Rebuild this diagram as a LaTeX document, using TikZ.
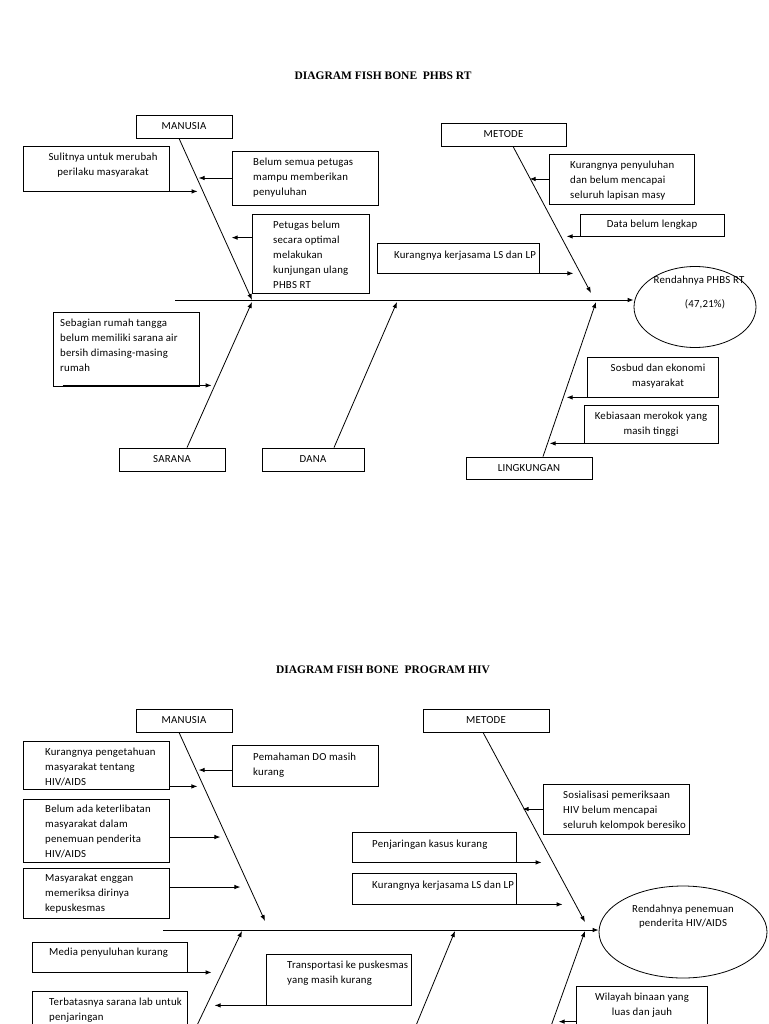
\documentclass[tikz,border=0pt]{standalone}
\usepackage{fontspec}
\setmainfont[LetterSpace=2]{Carlito}
\newfontfamily\titlefont{Liberation Serif}
\usetikzlibrary{arrows.meta,shapes.geometric,calc}
\tikzset{
  bx/.style={draw, line width=0.8pt, inner sep=0pt, font=\fontsize{10.8}{15}\selectfont},
  txt/.style={inner sep=0pt, font=\fontsize{10.8}{15}\selectfont},
  arr/.style={line width=0.8pt, -{Latex[length=6pt,width=4.5pt]}},
  ttl/.style={inner sep=0pt, font=\titlefont\bfseries\fontsize{11.5}{14}\selectfont},
  oval/.style={draw, ellipse, line width=0.8pt, inner sep=0pt}
}
\newcommand{\fbx}[6]{\node[bx, minimum width={(#4-#2)*1pt}, minimum height={(#5-#3)*1pt}] (#1) at ({(#2+#4)/2},{(#3+#5)/2}) {#6};}
\newcommand{\ltx}[4]{\node[txt, align=left, anchor=north west] (#1) at (#2,#3-4) {#4};}
\newcommand{\ctx}[4]{\node[txt, align=center, anchor=north] (#1) at (#2,#3-4) {#4};}
\begin{document}
\begin{tikzpicture}[x=1pt,y=-1pt]
\useasboundingbox[fill=white] (0,0) rectangle (768,1024);
\clip (0,0) rectangle (768,1024);

% ================= TOP DIAGRAM =================
\node[ttl] (title1) at (383,76) {DIAGRAM FISH BONE~ PHBS RT};

\fbx{tman}{136}{115}{232}{138}{MANUSIA}
\fbx{tmet}{441}{123}{566}{146}{METODE}
\fbx{tsar}{119}{448}{225}{471}{SARANA}
\fbx{tdan}{262}{448}{364}{471}{DANA}
\fbx{tlin}{466}{457}{592}{479}{LINGKUNGAN}

\fbx{c1}{23}{146}{169}{191}{}
\ctx{c1t}{103}{157}{Sulitnya untuk merubah\\perilaku masyarakat}
\fbx{c2}{232}{151}{378}{205}{}
\ltx{c2t}{253}{162}{Belum semua petugas\\mampu memberikan\\penyuluhan}
\fbx{c3}{252}{214}{369}{293}{}
\ltx{c3t}{273}{225}{Petugas belum\\secara optimal\\melakukan\\kunjungan ulang\\PHBS RT}
\fbx{c4}{377}{243}{539}{273}{}
\ctx{c4t}{465}{255}{Kurangnya kerjasama LS dan LP}
\fbx{c5}{549}{154}{694}{204}{}
\ltx{c5t}{570}{165}{Kurangnya penyuluhan\\dan belum mencapai\\seluruh lapisan masy}
\fbx{c6}{580}{214}{724}{236}{}
\ctx{c6t}{652}{224}{Data belum lengkap}
\fbx{c7}{53}{312}{199}{386}{}
\ltx{c7t}{60}{323}{Sebagian rumah tangga\\belum memiliki sarana air\\bersih dimasing-masing\\rumah}
\fbx{c8}{587}{357}{718}{397}{}
\ctx{c8t}{658}{368}{Sosbud dan ekonomi\\masyarakat}
\fbx{c9}{584}{405}{718}{443}{}
\ctx{c9t}{651}{416}{Kebiasaan merokok yang\\masih tinggi}

\node[oval, minimum width=122pt, minimum height=81pt] (te) at (695,307) {};
\node[txt] (tet1) at (699,281) {Rendahnya PHBS RT};
\node[txt] (tet2) at (705,304) {(47,21\%)};

\coordinate (tm0) at (175,300);
\draw[arr] (tm0) -- (te.west |- tm0);

\coordinate (tj1) at (252,300);
\coordinate (tj2) at (591,293);
\coordinate (tj3) at (252,302);
\coordinate (tj4) at (397,302);
\coordinate (tj5) at (596,302);
\draw[arr] ($(tman.south)+(-5,0)$) -- (tj1);
\draw[arr] ($(tmet.south)+(9.5,0)$) -- (tj2);
\draw[arr] ($(tsar.north)+(15,0)$) -- (tj3);
\draw[arr] ($(tdan.north)+(21,0)$) -- (tj4);
\draw[arr] ($(tlin.north)+(14,0)$) -- (tj5);

\draw[arr] ($(c1.south west)+(25,0)$) -- ++(150,0);
\draw[arr] (c2.west) -- ++(-33,0);
\draw[arr] ($(c3.north west)+(0,24)$) -- ++(-20,0);
\draw[arr] (c4.south east) -- ++(34,0);
\draw[arr] (c5.west) -- ++(-19,0);
\draw[arr] ($(c6.south west)+(33,0)$) -- ++(-46,0);
\draw[arr] ($(c7.south west)+(10,-1)$) -- ++(149,0);
\draw[arr] (c8.south west) -- ++(-20,0);
\draw[arr] ($(c9.south west)+(39,0)$) -- ++(-73,0);

% ================= BOTTOM DIAGRAM =================
\node[ttl] (title2) at (383,670) {DIAGRAM FISH BONE~ PROGRAM HIV};

\fbx{bman}{136}{709}{232}{732}{MANUSIA}
\fbx{bmet}{423}{709}{549}{732}{METODE}

\fbx{d1}{23}{741}{169}{789}{}
\ltx{d1t}{45}{752}{Kurangnya pengetahuan\\masyarakat tentang\\HIV/AIDS}
\fbx{d2}{23}{799}{169}{862}{}
\ltx{d2t}{45}{809}{Belum ada keterlibatan\\masyarakat dalam\\penemuan penderita\\HIV/AIDS}
\fbx{d3}{23}{868}{169}{918}{}
\ltx{d3t}{45}{878}{Masyarakat enggan\\memeriksa dirinya\\kepuskesmas}
\fbx{d4}{232}{745}{378}{786}{}
\ltx{d4t}{253}{757}{Pemahaman DO masih\\kurang}
\fbx{d5}{543}{784}{689}{834}{}
\ltx{d5t}{563}{795}{Sosialisasi pemeriksaan\\HIV belum mencapai\\seluruh kelompok beresiko}
\fbx{d6}{352}{832}{516}{862}{}
\ltx{d6t}{372}{844}{Penjaringan kasus kurang}
\fbx{d7}{352}{873}{516}{904}{}
\ltx{d7t}{372}{885}{Kurangnya kerjasama LS dan LP}
\fbx{d8}{32}{942}{187}{972}{}
\ltx{d8t}{49}{952}{Media penyuluhan kurang}
\fbx{d9}{32}{991}{187}{1045}{}
\ltx{d9t}{49}{1002}{Terbatasnya sarana lab untuk\\penjaringan}
\fbx{d10}{266}{954}{411}{1005}{}
\ltx{d10t}{287}{965}{Transportasi ke puskesmas\\yang masih kurang}
\fbx{d11}{576}{986}{707}{1045}{}
\ctx{d11t}{642}{997}{Wilayah binaan yang\\luas dan jauh}

\node[oval, minimum width=168pt, minimum height=92pt] (be) at (683,932) {};
\node[txt] (bet1) at (683,910) {Rendahnya penemuan};
\node[txt] (bet2) at (683,924) {penderita HIV/AIDS};

\coordinate (bm0) at (163,930);
\draw[arr] (bm0) -- (be.west |- bm0);

\coordinate (bj1) at (265,921);
\coordinate (bj2) at (585,922);
\coordinate (bj3) at (242,931);
\coordinate (bj4) at (455,931);
\coordinate (bj5) at (585,931);
\coordinate (bb3) at (190,1040);
\coordinate (bb4) at (410,1040);
\coordinate (bb5) at (546,1040);
\draw[arr] ($(bman.south)+(-5,0)$) -- (bj1);
\draw[arr] ($(bmet.south)+(-3,0)$) -- (bj2);
\draw[arr] (bb3) -- (bj3);
\draw[arr] (bb4) -- (bj4);
\draw[arr] (bb5) -- (bj5);

\draw[arr] ($(d1.south east)+(0,-3)$) -- ++(28,0);
\draw[arr] ($(d2.east)+(0,6.5)$) -- ++(51,0);
\draw[arr] ($(d3.east)+(0,-6)$) -- ++(71,0);
\draw[arr] ($(d4.west)+(0,4.5)$) -- ++(-33,0);
\draw[arr] (d5.west) -- ++(-20,0);
\draw[arr] ($(d6.south west)+(14,0)$) -- ++(176,0);
\draw[arr] ($(d7.south west)+(39,0)$) -- ++(172,0);
\draw[arr] ($(d8.south west)+(30,0)$) -- ++(150,0);
\draw[arr] (d10.south west) -- ++(-51,0);
\draw[arr] ($(d11.north west)+(0,36)$) -- ++(-17,0);
\end{tikzpicture}
\end{document}
